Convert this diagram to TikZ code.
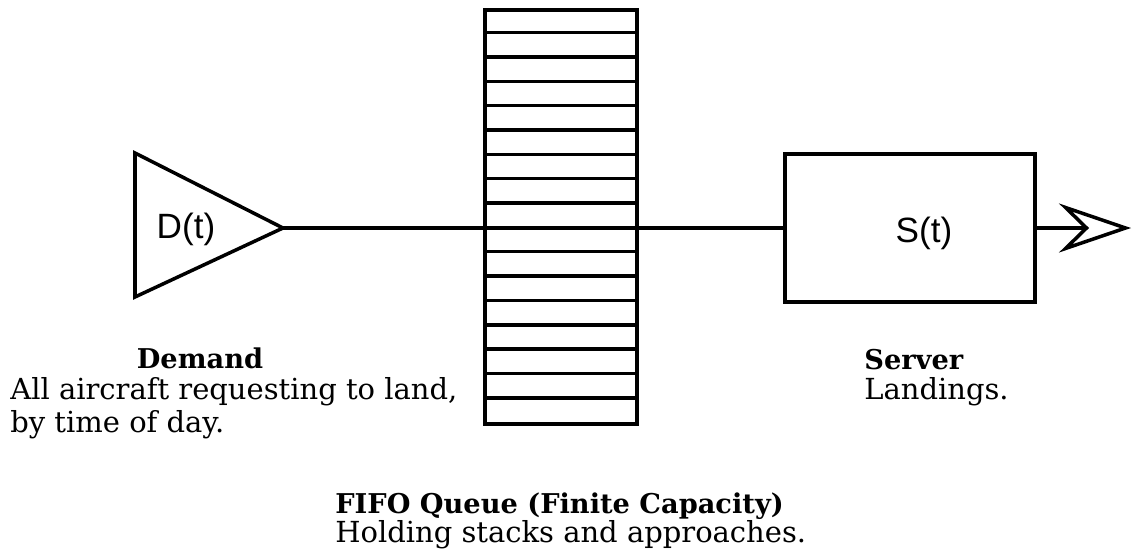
\documentclass[tikz,border=0pt]{standalone}
\usepackage{fontspec}
\setmainfont{DejaVu Serif}
\setsansfont{Liberation Sans}
\usetikzlibrary{arrows.meta}
\tikzset{
  wire/.style={line width=2pt},
  srvbox/.style={draw,line width=2pt,minimum width=5cm,minimum height=2.96cm,inner sep=0pt},
  qbox/.style={draw,line width=2pt,minimum width=3.04cm,minimum height=8.28cm,inner sep=0pt},
  fn/.style={font=\sffamily\fontsize{20}{24}\selectfont},
  txtline/.style={anchor=base west,inner sep=0pt,font=\fontsize{16.5}{20}\selectfont},
  hd/.style={inner sep=0pt,font=\fontsize{15.5}{19}\selectfont\bfseries},
  outarr/.style={-{Stealth[open,length=1.44cm,width=0.98cm,inset=0.5cm]}}
}
\begin{document}
\begin{tikzpicture}[x=0.02cm,y=-0.02cm]
  \useasboundingbox (0,0) rectangle (1133,554);
  % demand
  \coordinate (dtip) at (283,228);
  \draw[wire,line join=miter] (135,153) -- (dtip) -- (135,297) -- cycle;
  \node[fn] (dfun) at (186,229) {D(t)};
  % queue
  \node[qbox] (queue) at (561,217) {};
  \foreach \k in {1,...,16}
    \draw[line width=2pt] ([yshift=-\k*0.487cm]queue.north west) -- ([yshift=-\k*0.487cm]queue.north east);
  % server
  \node[srvbox] (srv) at (910,228) {};
  \node[fn] (sfun) at (924,233) {S(t)};
  \coordinate (out) at (1131,228);
  \draw[wire] (dtip) -- (srv.west);
  \draw[wire,outarr] (srv.east) -- (out);
  % labels
  \node[hd,anchor=base] (demhd) at (200,368) {Demand};
  \node[txtline] (dem1) at (10,399) {All aircraft requesting to land,};
  \node[txtline] (dem2) at (10,432) {by time of day.};
  \node[hd,anchor=base west] (srvhd) at (864,369) {Server};
  \node[txtline] (srv1) at (864,399) {Landings.};
  \node[hd,anchor=base west] (qhd) at (335,513) {FIFO Queue (Finite Capacity)};
  \node[txtline] (q1) at (335,542) {Holding stacks and approaches.};
\end{tikzpicture}
\end{document}
